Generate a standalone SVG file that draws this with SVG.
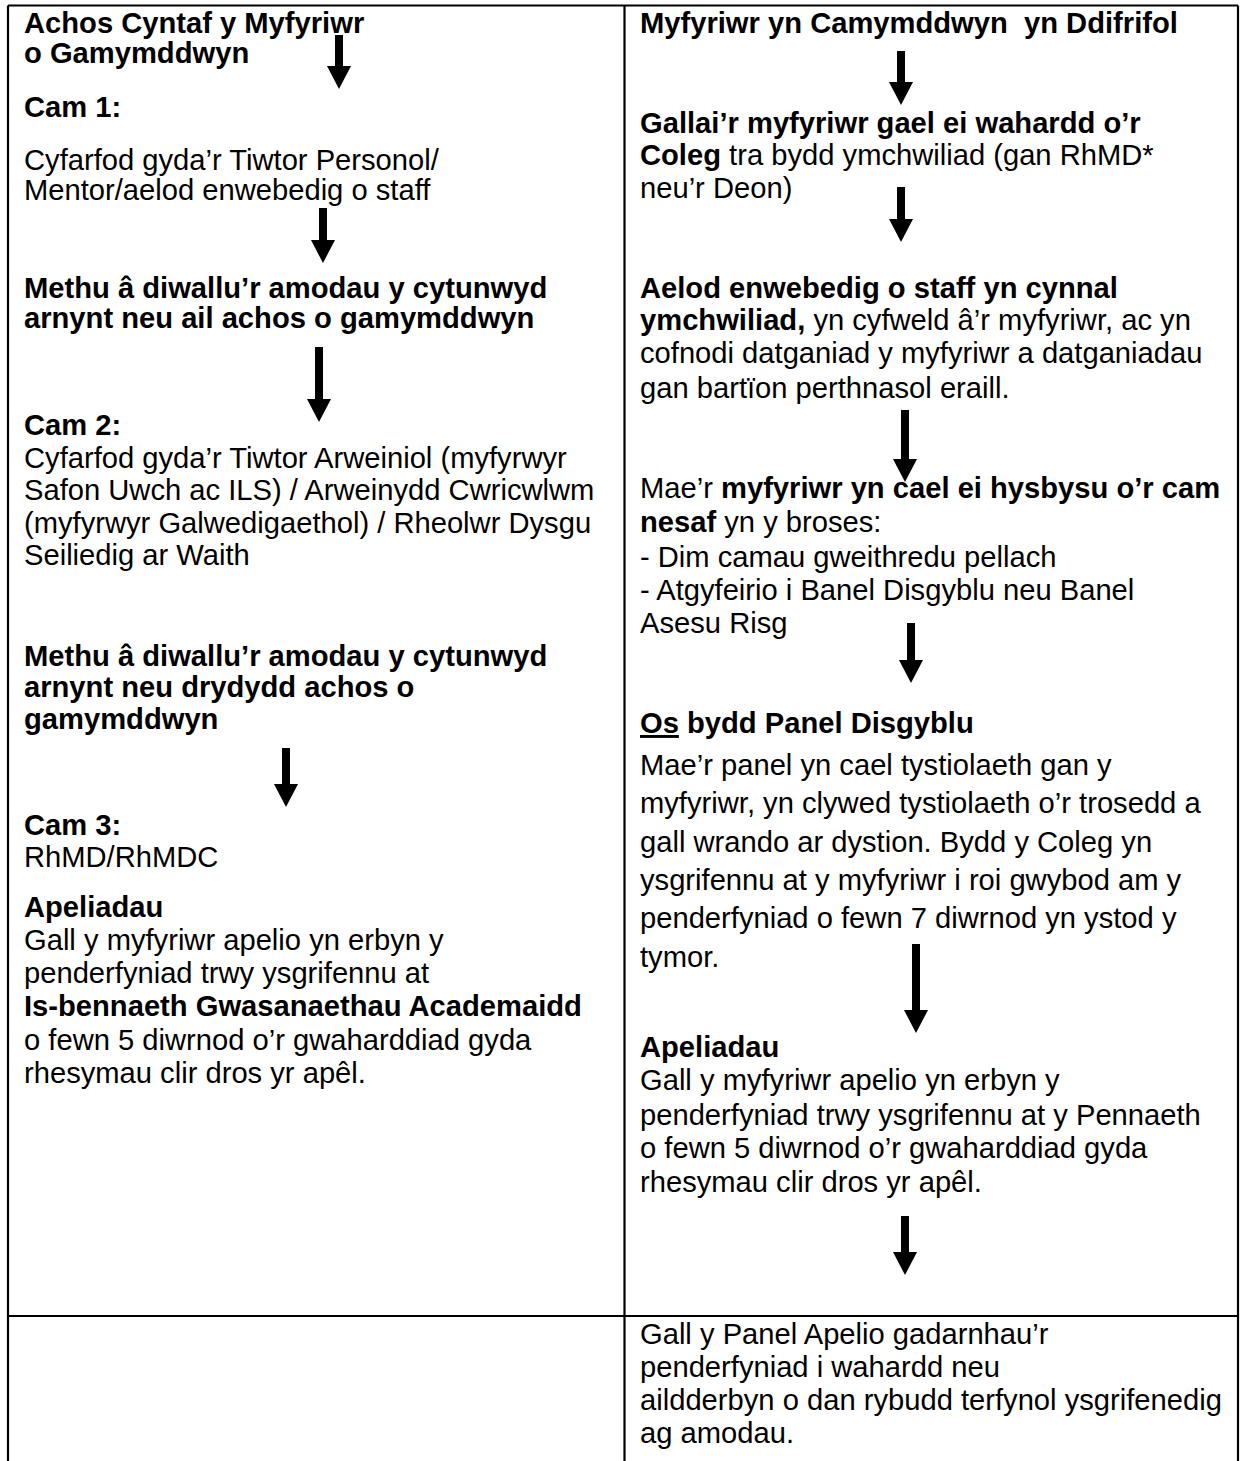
<svg xmlns="http://www.w3.org/2000/svg" width="1241" height="1461" viewBox="0 0 1241 1461">
<style>
text{font-family:"Liberation Sans",Arial,Helvetica,sans-serif;font-size:29.17px;fill:#000}
.b{font-weight:bold}
.pre{white-space:pre}
.grid{stroke:#000;stroke-width:2.2;fill:none}
.arr{stroke:#000;stroke-width:8;fill:none;marker-end:url(#ah)}
</style>
<defs>
<marker id="ah" viewBox="0 0 23 24" refX="0" refY="12" markerUnits="userSpaceOnUse" markerWidth="23" markerHeight="24" orient="auto">
<path d="M0,0 L23,12 L0,24 Z" fill="#000"/>
</marker>
</defs>
<rect width="1241" height="1461" fill="#fff"/>
<g id="table">
<line class="grid" x1="8" y1="5.5" x2="1238" y2="5.5"/>
<line class="grid" x1="8" y1="5.5" x2="8" y2="1461"/>
<line class="grid" x1="624.5" y1="5.5" x2="624.5" y2="1461"/>
<line class="grid" x1="1238" y1="5.5" x2="1238" y2="1461"/>
<line class="grid" x1="8" y1="1316" x2="1238" y2="1316"/>
</g>
<g id="connectors">
<line class="arr" x1="339" y1="35" x2="339" y2="66"/>
<line class="arr" x1="323" y1="208" x2="323" y2="240"/>
<line class="arr" x1="319" y1="347" x2="319" y2="399"/>
<line class="arr" x1="286" y1="748" x2="286" y2="784"/>
<line class="arr" x1="901" y1="51" x2="901" y2="82"/>
<line class="arr" x1="901" y1="187" x2="901" y2="219"/>
<line class="arr" x1="905" y1="410" x2="905" y2="459"/>
<line class="arr" x1="911" y1="623" x2="911" y2="660"/>
<line class="arr" x1="916" y1="944" x2="916" y2="1010"/>
<line class="arr" x1="905" y1="1216" x2="905" y2="1252"/>
</g>
<g id="left-first">
<text class="b" x="24" y="33">Achos Cyntaf y Myfyriwr</text>
<text class="b" x="24" y="63">o Gamymddwyn</text>
</g>
<g id="left-cam1">
<text class="b" x="24" y="117">Cam 1:</text>
<text x="24" y="170">Cyfarfod gyda’r Tiwtor Personol/</text>
<text x="24" y="200">Mentor/aelod enwebedig o staff</text>
</g>
<g id="left-fail1">
<text class="b" x="24" y="298">Methu â diwallu’r amodau y cytunwyd</text>
<text class="b" x="24" y="328">arnynt neu ail achos o gamymddwyn</text>
</g>
<g id="left-cam2">
<text class="b" x="24" y="435">Cam 2:</text>
<text x="24" y="468">Cyfarfod gyda’r Tiwtor Arweiniol (myfyrwyr</text>
<text x="24" y="500">Safon Uwch ac ILS) / Arweinydd Cwricwlwm</text>
<text x="24" y="533">(myfyrwyr Galwedigaethol) / Rheolwr Dysgu</text>
<text x="24" y="565">Seiliedig ar Waith</text>
</g>
<g id="left-fail2">
<text class="b" x="24" y="666">Methu â diwallu’r amodau y cytunwyd</text>
<text class="b" x="24" y="697">arnynt neu drydydd achos o</text>
<text class="b" x="24" y="729">gamymddwyn</text>
</g>
<g id="left-cam3">
<text class="b" x="24" y="835">Cam 3:</text>
<text x="24" y="867">RhMD/RhMDC</text>
</g>
<g id="left-appeal">
<text class="b" x="24" y="917">Apeliadau</text>
<text x="24" y="950">Gall y myfyriwr apelio yn erbyn y</text>
<text x="24" y="983">penderfyniad trwy ysgrifennu at</text>
<text class="b" x="24" y="1016">Is-bennaeth Gwasanaethau Academaidd</text>
<text x="24" y="1050">o fewn 5 diwrnod o’r gwaharddiad gyda</text>
<text x="24" y="1083">rhesymau clir dros yr apêl.</text>
</g>
<g id="right-serious">
<text class="b pre" x="640" y="33">Myfyriwr yn Camymddwyn  yn Ddifrifol</text>
</g>
<g id="right-exclude">
<text class="b" x="640" y="133">Gallai’r myfyriwr gael ei wahardd o’r</text>
<text x="640" y="165"><tspan class="b">Coleg</tspan> tra bydd ymchwiliad (gan RhMD*</text>
<text x="640" y="198">neu’r Deon)</text>
</g>
<g id="right-investigate">
<text class="b" x="640" y="298">Aelod enwebedig o staff yn cynnal</text>
<text x="640" y="330"><tspan class="b">ymchwiliad,</tspan> yn cyfweld â’r myfyriwr, ac yn</text>
<text x="640" y="363">cofnodi datganiad y myfyriwr a datganiadau</text>
<text x="640" y="398">gan bartïon perthnasol eraill.</text>
</g>
<g id="right-inform">
<text x="640" y="498">Mae’r <tspan class="b">myfyriwr yn cael ei hysbysu o’r cam</tspan></text>
<text x="640" y="532"><tspan class="b">nesaf</tspan> yn y broses:</text>
<text x="640" y="567">- Dim camau gweithredu pellach</text>
<text x="640" y="600">- Atgyfeirio i Banel Disgyblu neu Banel</text>
<text x="640" y="633">Asesu Risg</text>
</g>
<g id="right-panel">
<text class="b" x="640" y="733"><tspan text-decoration="underline">Os</tspan> bydd Panel Disgyblu</text>
<text x="640" y="775">Mae’r panel yn cael tystiolaeth gan y</text>
<text x="640" y="813">myfyriwr, yn clywed tystiolaeth o’r trosedd a</text>
<text x="640" y="852">gall wrando ar dystion. Bydd y Coleg yn</text>
<text x="640" y="890">ysgrifennu at y myfyriwr i roi gwybod am y</text>
<text x="640" y="928">penderfyniad o fewn 7 diwrnod yn ystod y</text>
<text x="640" y="967">tymor.</text>
</g>
<g id="right-appeal">
<text class="b" x="640" y="1057">Apeliadau</text>
<text x="640" y="1090">Gall y myfyriwr apelio yn erbyn y</text>
<text x="640" y="1125">penderfyniad trwy ysgrifennu at y Pennaeth</text>
<text x="640" y="1158">o fewn 5 diwrnod o’r gwaharddiad gyda</text>
<text x="640" y="1192">rhesymau clir dros yr apêl.</text>
</g>
<g id="right-outcome">
<text x="640" y="1344">Gall y Panel Apelio gadarnhau’r</text>
<text x="640" y="1377">penderfyniad i wahardd neu</text>
<text x="640" y="1410">aildderbyn o dan rybudd terfynol ysgrifenedig</text>
<text x="640" y="1443">ag amodau.</text>
</g>
</svg>
